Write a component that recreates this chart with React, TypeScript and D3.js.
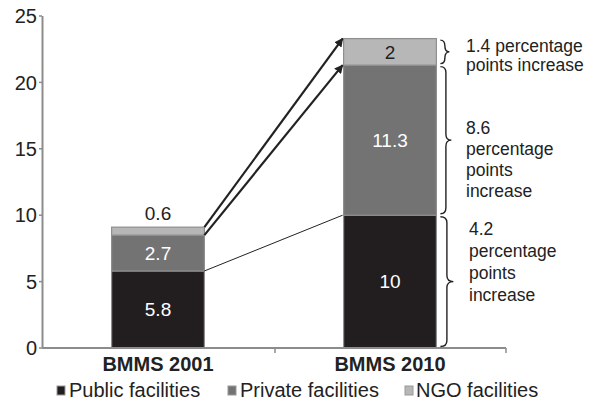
import React from "react";
import * as d3 from "d3";

// Survey rounds and the share of deliveries by facility type (percent)
const surveys = ["BMMS 2001", "BMMS 2010"];
const seriesNames = ["Public facilities", "Private facilities", "NGO facilities"];
const publicValues = [5.8, 10];
const privateValues = [2.7, 11.3];
const ngoValues = [0.6, 2];
const yTicks = [0, 5, 10, 15, 20, 25];
const changeNotes = [
  ["4.2", "percentage", "points", "increase"],
  ["8.6", "percentage", "points", "increase"],
  ["1.4 percentage", "points increase"],
];

const W = 591;
const H = 404;
const FONT = "'Liberation Sans', Arial, Helvetica, sans-serif";
const fills = ["#221e1f", "#737373", "#b7b7b7"];
const labelFills = ["#ffffff", "#ffffff", "#222222"];

function bracePath(x: number, y1: number, y2: number, w: number) {
  const mid = (y1 + y2) / 2;
  const q = Math.min(6, (y2 - y1) / 4);
  const xm = x + w / 2;
  return `M${x},${y1} Q${xm},${y1} ${xm},${y1 + q} L${xm},${mid - q} Q${xm},${mid} ${x + w},${mid} Q${xm},${mid} ${xm},${mid + q} L${xm},${y2 - q} Q${xm},${y2} ${x},${y2}`;
}

export default function App() {
  const x = d3
    .scaleBand<string>()
    .domain(surveys)
    .range([42, 506])
    .paddingInner(0.6)
    .paddingOuter(0.3);
  const y = d3.scaleLinear().domain([0, 25]).range([348, 16]);

  const rows = surveys.map((s, i) => ({
    survey: s,
    values: [publicValues[i], privateValues[i], ngoValues[i]],
  }));
  const stacked = rows.map((r) => {
    let acc = 0;
    return r.values.map((v, k) => {
      const seg = { k, v, y0: acc, y1: acc + v };
      acc += v;
      return seg;
    });
  });

  const bw = x.bandwidth();
  const x0Right = (x(surveys[0]) ?? 0) + bw;
  const x1Left = x(surveys[1]) ?? 0;

  // connector lines from the first round's segment tops to the second's
  const connectors = [0, 1, 2].map((k) => ({
    k,
    from: stacked[0][k].y1,
    to: stacked[1][k].y1,
  }));

  const braceX = x1Left + bw + 4;
  const braceWidths = [13, 11, 9];
  const noteFirstLine = [229, 128, 46];
  const noteX = [469, 466, 466];
  const noteStep = [22, 21, 19];

  const legendX = [[57, 69], [228, 240], [405, 416]];

  return (
    <svg
      width={W}
      height={H}
      style={{ position: "absolute", left: 0, top: 0, background: "#fff" }}
      fontFamily={FONT}
    >
      <defs>
        <marker
          id="tip"
          viewBox="0 0 10 10"
          refX="9"
          refY="5"
          markerWidth="4"
          markerHeight="4"
          orient="auto"
        >
          <path d="M0,0 L10,5 L0,10 z" fill="#222" />
        </marker>
      </defs>

      {/* y axis */}
      <line x1={42.5} x2={42.5} y1={y(25)} y2={y(0)} stroke="#8c8c8c" strokeWidth={2} />
      {yTicks.map((t) => (
        <g key={t}>
          <line x1={39} x2={42} y1={y(t)} y2={y(t)} stroke="#8c8c8c" strokeWidth={1.5} />
          <text
            x={37}
            y={y(t)}
            dy="0.36em"
            textAnchor="end"
            fontSize={20}
            fill="#222"
          >
            {t}
          </text>
        </g>
      ))}

      {/* bars */}
      {stacked.map((segs, i) =>
        segs.map((s) => (
          <rect
            key={`${i}-${s.k}`}
            x={x(surveys[i])}
            y={y(s.y1)}
            width={bw}
            height={y(s.y0) - y(s.y1)}
            fill={fills[s.k]}
            stroke="#8f8f8f"
            strokeWidth={1.2}
          />
        ))
      )}

      {/* x axis */}
      <line x1={42} x2={506} y1={y(0)} y2={y(0)} stroke="#8c8c8c" strokeWidth={2} />
      {[275, 506].map((tx) => (
        <line key={tx} x1={tx} x2={tx} y1={y(0)} y2={y(0) + 5} stroke="#8c8c8c" strokeWidth={1.5} />
      ))}
      {surveys.map((s) => (
        <text
          key={s}
          x={(x(s) ?? 0) + bw / 2}
          y={371}
          textAnchor="middle"
          fontSize={20}
          fontWeight="bold"
          fill="#222"
        >
          {s}
        </text>
      ))}

      {/* connectors */}
      {connectors.map((c) => (
        <line
          key={c.k}
          x1={x0Right}
          y1={y(c.from)}
          x2={x1Left - 1}
          y2={y(c.to)}
          stroke="#222"
          strokeWidth={c.k === 0 ? 1 : 2.2}
          markerEnd={c.k === 0 ? undefined : "url(#tip)"}
        />
      ))}

      {/* value labels */}
      {stacked.map((segs, i) =>
        segs.map((s) => {
          const small = s.v < 1;
          const cy = small ? y(s.y1) - 14 : (y(s.y0) + y(s.y1)) / 2;
          return (
            <text
              key={`l${i}-${s.k}`}
              x={(x(surveys[i]) ?? 0) + bw / 2}
              y={cy}
              dy="0.36em"
              textAnchor="middle"
              fontSize={19}
              fill={small ? "#222" : labelFills[s.k]}
            >
              {s.v}
            </text>
          );
        })
      )}

      {/* braces with change notes */}
      {stacked[1].map((s) => (
        <g key={`b${s.k}`}>
          <path
            d={bracePath(braceX, y(s.y1) + 1.5, y(s.y0) - 1.5, braceWidths[s.k])}
            fill="none"
            stroke="#222"
            strokeWidth={1.4}
          />
          {changeNotes[s.k].map((line, j) => (
            <text
              key={j}
              x={noteX[s.k]}
              y={noteFirstLine[s.k] + j * noteStep[s.k]}
              dy="0.36em"
              fontSize={17.5}
              fill="#222"
            >
              {line}
            </text>
          ))}
        </g>
      ))}

      {/* legend */}
      {seriesNames.map((n, k) => (
        <g key={n}>
          <rect
            x={legendX[k][0]}
            y={386}
            width={8}
            height={9}
            fill={fills[k]}
            stroke="#999"
            strokeWidth={1}
          />
          <text x={legendX[k][1]} y={397} fontSize={20} fill="#222">
            {n}
          </text>
        </g>
      ))}
    </svg>
  );
}
